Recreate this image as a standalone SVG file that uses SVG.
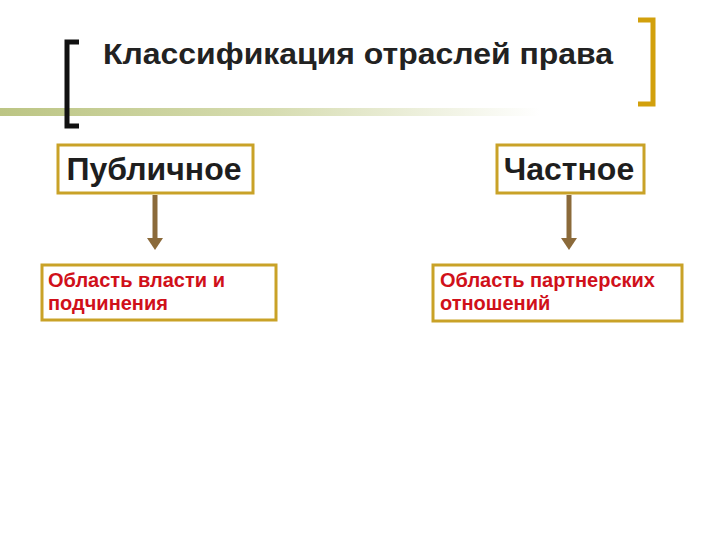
<svg xmlns="http://www.w3.org/2000/svg" width="720" height="540" viewBox="0 0 720 540">
<defs>
<linearGradient id="bar" x1="0" y1="0" x2="1" y2="0">
<stop offset="0" stop-color="#bcc584"/>
<stop offset="0.5" stop-color="#d6dcb0"/>
<stop offset="1" stop-color="#ffffff"/>
</linearGradient>
<style>
.box{fill:#ffffff;stroke:#c9a227;stroke-width:3}
.head{font-family:"Liberation Sans",Arial,sans-serif;font-weight:bold;font-size:32px;fill:#1e1e1e;text-anchor:middle}
.sub{font-family:"Liberation Sans",Arial,sans-serif;font-weight:bold;font-size:20px;fill:#d0101a}
.conn{stroke:#8b6a3a;stroke-width:5;fill:none}
.tip{fill:#8b6a3a}
</style>
</defs>
<rect width="720" height="540" fill="#ffffff"/>
<g id="decor">
<rect x="0" y="108" width="540" height="8" fill="url(#bar)"/>
<path d="M79 42 H67 V126 H79" fill="none" stroke="#111" stroke-width="5"/>
<path d="M638 20 H653 V104 H638" fill="none" stroke="#d2a00c" stroke-width="5"/>
</g>
<g id="title">
<text x="103" y="64" font-family="'Liberation Sans',Arial,sans-serif" font-weight="bold" font-size="30" fill="#222" textLength="510" lengthAdjust="spacingAndGlyphs">Классификация отраслей права</text>
</g>
<g id="connectors">
<line class="conn" x1="155" y1="195" x2="155" y2="240"/>
<path class="tip" d="M147 238 H163 L155 250 Z"/>
<line class="conn" x1="569" y1="195" x2="569" y2="240"/>
<path class="tip" d="M561 238 H577 L569 250 Z"/>
</g>
<g id="public">
<rect class="box" x="58" y="145" width="195" height="48"/>
<text class="head" x="154" y="180">Публичное</text>
</g>
<g id="private">
<rect class="box" x="497" y="145" width="147" height="48"/>
<text class="head" x="569" y="180">Частное</text>
</g>
<g id="power">
<rect class="box" x="42" y="265" width="234" height="55"/>
<text class="sub" x="48" y="287">Область власти и</text>
<text class="sub" x="48" y="310">подчинения</text>
</g>
<g id="partner">
<rect class="box" x="433" y="265" width="249" height="56"/>
<text class="sub" x="440" y="287">Область партнерских</text>
<text class="sub" x="440" y="310">отношений</text>
</g>
</svg>
